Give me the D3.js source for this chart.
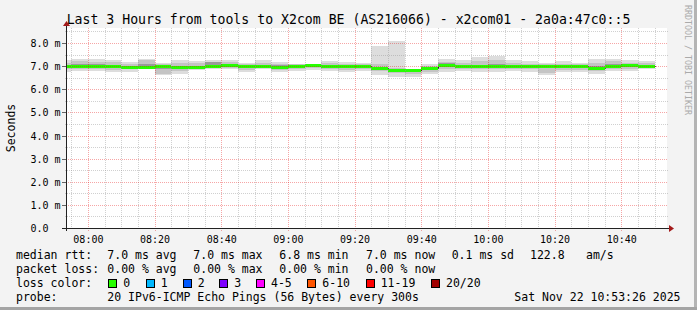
<!DOCTYPE html>
<html><head><meta charset="utf-8">
<script src="https://cdn.jsdelivr.net/npm/d3@7"></script>
<style>html,body{margin:0;padding:0;background:#f3f3f3;} svg{display:block;}</style>
</head><body>
<svg id="c" width="697" height="310"></svg>
<script>
// ---------------- DATA ----------------
const titleText = "Last 3 Hours from tools to X2com BE (AS216066) - x2com01 - 2a0a:47c0::5";
const startTime = "2025-11-22 07:53:26";
const endTime   = "2025-11-22 10:53:26";
const day = "2025-11-22";
// bucket start times (each bucket = one 300s probe round)
const buckets = ["07:50","07:55","08:00","08:05","08:10","08:15","08:20","08:25","08:30","08:35","08:40","08:45",
  "08:50","08:55","09:00","09:05","09:10","09:15","09:20","09:25","09:30","09:35","09:40","09:45",
  "09:50","09:55","10:00","10:05","10:10","10:15","10:20","10:25","10:30","10:35","10:40","10:45"];
const stepSeconds = 300;
// median rtt (ms)
const median = [6.99,6.99,6.99,6.99,6.96,6.97,6.99,6.96,6.96,7.02,7.05,6.99,
  6.99,6.98,6.99,7.04,6.99,6.99,7.01,6.91,6.82,6.82,6.91,7.05,
  7.01,6.99,6.99,6.99,6.99,6.99,7.00,6.99,6.94,7.02,7.03,6.99];
// smoke: min / max ping (ms)
const pingMin = [6.75,6.79,6.79,6.75,6.75,6.86,6.60,6.68,6.82,6.86,6.86,6.75,
  6.86,6.75,6.79,6.82,6.79,6.75,6.79,6.60,6.55,6.55,6.65,6.75,
  6.79,6.75,6.75,6.79,6.75,6.60,6.75,6.75,6.68,6.79,6.79,6.86];
const pingMax = [7.25,7.32,7.32,7.25,7.18,7.32,7.15,7.25,7.22,7.25,7.25,7.15,
  7.25,7.18,7.11,7.11,7.22,7.18,7.15,7.87,8.09,6.86,7.11,7.32,
  7.25,7.40,7.44,7.25,7.22,7.15,7.22,7.15,7.30,7.32,7.25,7.22];
// smoke: inner quartile band (ms)
const q1 = [6.86,6.86,6.86,6.82,6.86,6.90,6.68,6.79,6.86,6.90,6.90,6.82,
  6.90,6.82,6.86,6.90,6.86,6.82,6.86,6.79,6.72,6.65,6.75,6.86,
  6.86,6.86,6.86,6.86,6.86,6.72,6.82,6.82,6.79,6.86,6.86,6.90];
const q3 = [7.15,7.22,7.18,7.18,7.11,7.25,7.08,7.15,7.15,7.20,7.18,7.08,
  7.15,7.11,7.08,7.08,7.15,7.11,7.08,7.08,6.90,6.86,7.02,7.20,
  7.15,7.22,7.25,7.15,7.11,7.08,7.11,7.08,7.15,7.22,7.15,7.15];
// smoke: dense core band (ms)
const coreLo = [6.93,6.93,6.90,6.90,6.92,6.93,6.86,6.90,6.88,6.96,6.98,6.92,
  6.94,6.88,6.93,6.96,6.92,6.92,6.95,6.84,6.76,6.76,6.84,6.98,
  6.95,6.93,6.90,6.93,6.93,6.90,6.93,6.92,6.86,6.96,6.97,6.94];
const coreHi = [7.06,7.10,7.08,7.04,7.02,7.10,7.03,7.02,7.02,7.16,7.10,7.04,
  7.05,7.04,7.04,7.08,7.04,7.04,7.06,6.96,6.88,6.88,6.96,7.12,
  7.07,7.06,7.08,7.06,7.04,7.04,7.06,7.04,7.00,7.08,7.10,7.04];
const yTicks = [0,1,2,3,4,5,6,7,8];
const yTickLabels = ["0.0","1.0 m","2.0 m","3.0 m","4.0 m","5.0 m","6.0 m","7.0 m","8.0 m"];
const yMinor = [0.5,1.5,2.5,3.5,4.5,5.5,6.5,7.5,8.5];
const yMax = 8.65;
const legendLine1 = ["median rtt:","7.0 ms avg","7.0 ms max","6.8 ms min","7.0 ms now","0.1 ms sd","122.8","am/s"];
const legendLine2 = ["packet loss:","0.00 % avg","0.00 % max","0.00 % min","0.00 % now"];
const lossLabels = ["0","1","2","3","4-5","6-10","11-19","20/20"];
const lossColors = ["#26ff00","#00b8ff","#0059ff","#7e00ff","#ff00ff","#ff5500","#ff0000","#a10000"];
const probeLine = ["probe:","20 IPv6-ICMP Echo Pings (56 Bytes) every 300s","Sat Nov 22 10:53:26 2025"];
const watermark = "RRDTOOL / TOBI OETIKER";
const yTitle = "Seconds";

// ---------------- DRAW ----------------
const parse = d3.timeParse("%Y-%m-%d %H:%M:%S");
const parseHM = s => parse(day + " " + s + ":00");
const t0 = parse(startTime), t1 = parse(endTime);
const X0 = 66, X1 = 666, Y0 = 228, Y1 = 28;
const x = d3.scaleTime().domain([t0, t1]).range([X0, X1]);
const y = d3.scaleLinear().domain([0, yMax]).range([Y0, Y1]);
const mono = "'DejaVu Sans Mono', monospace";

const svg = d3.select("#c");
svg.append("rect").attr("width",697).attr("height",310).attr("fill","#f3f3f3");
// frame shade
svg.append("rect").attr("x",694).attr("y",0).attr("width",3).attr("height",310).attr("fill","#b4b4b4");
svg.append("rect").attr("x",0).attr("y",307).attr("width",697).attr("height",3).attr("fill","#a4a4a4");
// plot canvas
svg.append("rect").attr("x",X0).attr("y",Y1).attr("width",X1-X0+1).attr("height",Y0-Y1).attr("fill","#ffffff");

svg.append("clipPath").attr("id","pc").append("rect")
  .attr("x",X0+1).attr("y",Y1).attr("width",X1-X0).attr("height",Y0-Y1);
const plot = svg.append("g").attr("clip-path","url(#pc)");

const data = buckets.map((b,i) => {
  const s = parseHM(b);
  return {s, e: new Date(s.getTime() + stepSeconds*1000), med: median[i],
    mn: pingMin[i], mx: pingMax[i], q1: q1[i], q3: q3[i], cl: coreLo[i], ch: coreHi[i]};
});
function band(lo, hi, color) {
  const g = plot.append("g");
  g.selectAll("rect").data(data).enter().append("rect")
    .attr("x", d => Math.round(x(d.s)))
    .attr("width", d => Math.round(x(d.e)) - Math.round(x(d.s)))
    .attr("y", d => Math.round(y(d[hi])))
    .attr("height", d => Math.max(1, Math.round(y(d[lo])) - Math.round(y(d[hi]))))
    .attr("fill", color).attr("shape-rendering","crispEdges");
}
band("mn","mx","#dddddd");
band("q1","q3","#c4c4c4");
band("cl","ch","#9a9a9a");

// median: thin dark step line + loss-coloured band
const stepPts = [];
data.forEach(d => { stepPts.push([Math.round(x(d.s))+0.5, Math.round(y(d.med))+0.5]); stepPts.push([Math.round(x(d.e))+0.5, Math.round(y(d.med))+0.5]); });
plot.append("path").attr("d", d3.line()(stepPts)).attr("fill","none")
  .attr("stroke","#202020").attr("stroke-width",1).attr("shape-rendering","crispEdges");
const gm = plot.append("g");
gm.selectAll("rect").data(data).enter().append("rect")
  .attr("x", d => Math.round(x(d.s)))
  .attr("width", d => Math.round(x(d.e)) - Math.round(x(d.s)))
  .attr("y", d => Math.round(y(d.med)) - 1)
  .attr("height", 3)
  .attr("fill", lossColors[0]).attr("shape-rendering","crispEdges");

// grid (drawn over data, like rrdtool)
const grid = svg.append("g").attr("shape-rendering","crispEdges");
const minorX = x.ticks(d3.timeMinute.every(5)).filter(t => t.getMinutes() % 20 !== 0);
const majorX = x.ticks(d3.timeMinute.every(20));
const gridMinor = "rgba(150,150,150,0.45)";
const gridMajor = "rgba(230,0,0,0.35)";
grid.selectAll(null).data(yMinor).enter().append("line")
  .attr("x1",X0-1).attr("x2",X1+2).attr("y1",d=>Math.round(y(d))+0.5).attr("y2",d=>Math.round(y(d))+0.5)
  .attr("stroke",gridMinor).attr("stroke-dasharray","1,1");
grid.selectAll(null).data(minorX).enter().append("line")
  .attr("x1",d=>Math.round(x(d))+0.5).attr("x2",d=>Math.round(x(d))+0.5).attr("y1",Y1).attr("y2",Y0+2)
  .attr("stroke",gridMinor).attr("stroke-dasharray","1,1");
grid.selectAll(null).data(yTicks.slice(1)).enter().append("line")
  .attr("x1",X0).attr("x2",X1+2).attr("y1",d=>Math.round(y(d))+0.5).attr("y2",d=>Math.round(y(d))+0.5)
  .attr("stroke",gridMajor).attr("stroke-dasharray","1,1");
grid.selectAll(null).data(yTicks.slice(1)).enter().append("line")
  .attr("x1",X0-4).attr("x2",X0).attr("y1",d=>Math.round(y(d))+0.5).attr("y2",d=>Math.round(y(d))+0.5)
  .attr("stroke","#666");
grid.selectAll(null).data(majorX).enter().append("line")
  .attr("x1",d=>Math.round(x(d))+0.5).attr("x2",d=>Math.round(x(d))+0.5).attr("y1",Y1).attr("y2",Y0+3)
  .attr("stroke",gridMajor).attr("stroke-dasharray","1,1");

// axes lines + arrows
svg.append("line").attr("x1",X0+0.5).attr("x2",X0+0.5).attr("y1",Y0+3).attr("y2",Y1-4)
  .attr("stroke","#222").attr("shape-rendering","crispEdges");
svg.append("line").attr("x1",X0-4).attr("x2",X1+4).attr("y1",Y0+0.5).attr("y2",Y0+0.5)
  .attr("stroke","#222").attr("shape-rendering","crispEdges");
svg.append("path").attr("d",`M${X0-3},${Y1-2} L${X0+4},${Y1-2} L${X0+0.5},${Y1-7} Z`).attr("fill","#a31a1a");
svg.append("path").attr("d",`M${X1+3},${Y0-3} L${X1+3},${Y0+4} L${X1+8},${Y0+0.5} Z`).attr("fill","#a31a1a");

// axis labels using d3 axes
const xAxis = d3.axisBottom(x).tickValues(majorX).tickFormat(d3.timeFormat("%H:%M")).tickSize(0).tickPadding(0);
const gx = svg.append("g").attr("transform",`translate(0,${Y0})`).call(xAxis);
gx.select(".domain").remove();
gx.selectAll("text").attr("y",14.5).attr("dy",null).attr("font-family",mono).attr("font-size","10px").attr("fill","#000");

const yAxis = d3.axisLeft(y).tickValues(yTicks).tickFormat((d,i)=>yTickLabels[i]).tickSize(0).tickPadding(0);
const gy = svg.append("g").call(yAxis);
gy.select(".domain").remove();
gy.selectAll(".tick").attr("transform", d => `translate(0,${Math.round(y(d))})`);
gy.selectAll("text").attr("x",30.5).attr("dy",null).attr("y",4).attr("text-anchor","start")
  .attr("font-family",mono).attr("font-size","10px").attr("fill","#000");

// titles
svg.append("text").attr("x",348.5).attr("y",24).attr("text-anchor","middle")
  .attr("font-family",mono).attr("font-size","13.2px").attr("fill","#000").text(titleText);
svg.append("text").attr("transform",`translate(15,${(Y0+Y1)/2}) rotate(-90)`).attr("text-anchor","middle")
  .attr("font-family",mono).attr("font-size","11.5px").attr("fill","#000").text(yTitle);
svg.append("text").attr("transform","translate(684.5,5) rotate(90)").attr("text-anchor","start")
  .attr("font-family",mono).attr("font-size","8.3px").attr("fill","#aaaaaa").text(watermark);

// legend
const leg = svg.append("g").attr("font-family",mono).attr("font-size","11.5px").attr("fill","#000");
const l1x = [16,107.3,193.3,279.3,366,451.7,530,586];
legendLine1.forEach((s,i)=>leg.append("text").attr("x",l1x[i]).attr("y",258.5).text(s));
const l2x = [16,107.3,193.3,279.3,366];
legendLine2.forEach((s,i)=>leg.append("text").attr("x",l2x[i]).attr("y",272.5).text(s));
leg.append("text").attr("x",16).attr("y",286.5).text("loss color:");
const boxX = [108.3,145.7,182.7,219.3,256,307.3,365.7,431];
lossLabels.forEach((s,i)=>{
  svg.append("rect").attr("x",Math.round(boxX[i])+0.5).attr("y",279.5).attr("width",8).attr("height",8)
    .attr("fill",lossColors[i]).attr("stroke","#000").attr("shape-rendering","crispEdges");
  leg.append("text").attr("x",boxX[i]+15).attr("y",286.5).text(s);
});
leg.append("text").attr("x",16).attr("y",300.5).text(probeLine[0]);
leg.append("text").attr("x",107.3).attr("y",300.5).text(probeLine[1]);
leg.append("text").attr("x",680.5).attr("y",300.5).attr("text-anchor","end").text(probeLine[2]);
</script>
</body></html>
